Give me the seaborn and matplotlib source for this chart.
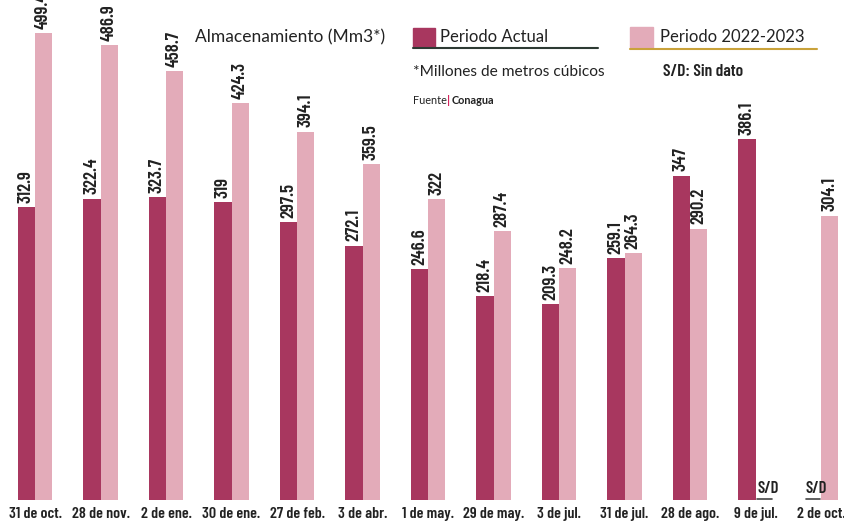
import matplotlib
matplotlib.use('Agg')
import matplotlib.pyplot as plt
import pandas as pd
import seaborn as sns
from matplotlib import font_manager
from matplotlib.font_manager import FontProperties

# fechas de corte (eje x)
fechas = ['31 de oct.', '28 de nov.', '2 de ene.', '30 de ene.', '27 de feb.', '3 de abr.',
          '1 de may.', '29 de may.', '3 de jul.', '31 de jul.', '28 de ago.', '9 de jul.', '2 de oct.']
# almacenamiento en Mm3, None = S/D (sin dato)
actual = [312.9, 322.4, 323.7, 319, 297.5, 272.1, 246.6, 218.4, 209.3, 259.1, 347, 386.1, None]
anterior = [499.4, 486.9, 458.7, 424.3, 394.1, 359.5, 322, 287.4, 248.2, 264.3, 290.2, None, 304.1]
series = ['Periodo Actual', 'Periodo 2022-2023']
colores = ['#a8375f', '#e3abb9']

df = pd.DataFrame({
    'fecha': fechas * 2,
    'valor': actual + anterior,
    'serie': [series[0]] * len(fechas) + [series[1]] * len(fechas),
})

sns.set_style('white')
plt.rcParams['font.family'] = ['Lato', 'DejaVu Sans']

# fuente angosta para cifras y fechas (si no esta, Lato en negrita)
nombres = {f.name for f in font_manager.fontManager.ttflist}
angosta = next((n for n in ['Barlow Condensed', 'Asap Condensed', 'Archivo Narrow'] if n in nombres), None)


def fp_num(s):
    if angosta:
        return FontProperties(family=angosta, weight=600, size=s)
    return FontProperties(family='Lato', weight='bold', size=s * 0.8)


fig = plt.figure(figsize=(8.44, 5.27), dpi=100)
ax = fig.add_axes([0, 27 / 527, 1, 500 / 527])

sns.barplot(data=df, x='fecha', y='valor', hue='serie', order=fechas, hue_order=series,
            palette=colores, width=0.52, errorbar=None, saturation=1, legend=False,
            linewidth=0, ax=ax)

for cont in ax.containers:
    ax.bar_label(cont, fmt='{:g}', rotation=90, padding=3, fontproperties=fp_num(13.5),
                 color='#222222')

# marcas S/D donde no hay dato
for i in range(len(fechas)):
    for j, vals in enumerate([actual, anterior]):
        if vals[i] is None:
            xc = i + (j - 0.5) * 0.26
            ax.text(xc + 0.06, 12, 'S/D', ha='center', va='center',
                    fontproperties=fp_num(12), color='#222222')
            ax.plot([xc - 0.1, xc + 0.12], [1, 1], color='#444444', lw=1.2)

ax.set_xlim(-35 / 65.5, (844 - 35) / 65.5)
ax.set_ylim(0, 500 / 0.935)
ax.set_xlabel('')
ax.set_ylabel('')
ax.set_yticks([])
ax.tick_params(axis='x', length=0, pad=5)
for lab in ax.get_xticklabels():
    lab.set_fontproperties(fp_num(11.5))
    lab.set_color('#222222')
sns.despine(ax=ax, left=True, bottom=True)

# capa en pixeles para la leyenda y las notas
capa = fig.add_axes([0, 0, 1, 1], facecolor='none')
capa.set_xlim(0, 844)
capa.set_ylim(527, 0)
capa.axis('off')

capa.text(195, 37, 'Almacenamiento (Mm3*)', fontsize=12.5, va='center', color='#222222')
capa.add_patch(plt.Rectangle((413, 28), 22, 19, color=colores[0]))
capa.text(440, 37, series[0], fontsize=12, va='center', color='#222222')
capa.plot([413, 598], [47.5, 47.5], color='#2d3a33', lw=1.5)
capa.add_patch(plt.Rectangle((630, 27), 23, 21, color=colores[1]))
capa.text(660, 37, series[1], fontsize=12, va='center', color='#222222')
capa.plot([630, 817], [48.5, 48.5], color='#c9a23a', lw=1.5)

capa.text(413, 72, '*Millones de metros cúbicos', fontsize=11.2, va='center', color='#222222')
capa.text(663, 72, 'S/D: Sin dato', va='center', fontproperties=fp_num(12.5), color='#222222')
capa.text(413, 100, 'Fuente', fontsize=7.8, va='center', color='#222222')
capa.text(447, 100, '|', fontsize=8.5, va='center', fontweight='bold', color='#d6245e')
capa.text(452, 100, 'Conagua', fontsize=7.8, va='center', fontweight='bold', color='#222222')

fig.savefig('out.png', dpi=100)
